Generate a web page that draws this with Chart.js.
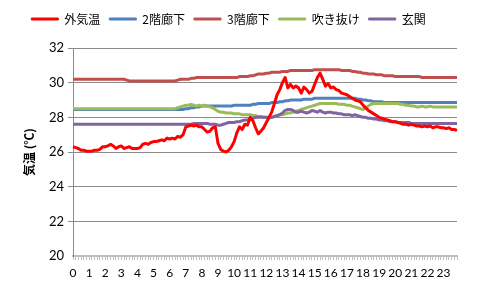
<!DOCTYPE html>
<html>
<head>
<meta charset="utf-8">
<script src="https://cdn.jsdelivr.net/npm/chart.js@4.4.0/dist/chart.umd.min.js"></script>
<style>
  html, body { margin: 0; padding: 0; background: #fff; }
  #wrap { width: 478px; height: 302px; }
</style>
</head>
<body>
<div id="wrap"><canvas id="chart" width="478" height="302"></canvas></div>
<script>
// hour tick labels (each hour has 6 ten-minute readings)
const hours = [0, 1, 2, 3, 4, 5, 6, 7, 8, 9, 10, 11, 12, 13, 14, 15, 16, 17, 18, 19, 20, 21, 22, 23];
const seriesNames = ["外気温", "2階廊下", "3階廊下", "吹き抜け", "玄関"];

const outside = [
  26.3, 26.25, 26.2, 26.1, 26.1, 26.05,
  26.05, 26.05, 26.1, 26.1, 26.15, 26.3,
  26.3, 26.35, 26.45, 26.35, 26.2, 26.3,
  26.35, 26.2, 26.25, 26.3, 26.2, 26.2,
  26.2, 26.25, 26.45, 26.5, 26.45, 26.55,
  26.6, 26.6, 26.65, 26.7, 26.65, 26.8,
  26.75, 26.8, 26.75, 26.9, 26.85, 27.0,
  27.45, 27.5, 27.55, 27.5, 27.55, 27.45,
  27.45, 27.3, 27.15, 27.2, 27.4, 27.45,
  26.5, 26.15, 26.05, 26.0, 26.1, 26.3,
  26.6, 27.1, 27.45, 27.3, 27.6, 27.55,
  28.0, 27.8, 27.4, 27.05, 27.2, 27.4,
  27.7, 28.0, 28.3, 28.8, 29.3, 29.6,
  30.0, 30.3, 29.7, 29.9, 29.7, 29.8,
  29.7, 29.4, 29.75, 29.6, 29.4, 29.5,
  29.9, 30.3, 30.55, 30.2, 29.8, 29.95,
  29.7, 29.75, 29.6, 29.55, 29.4, 29.35,
  29.3, 29.2, 29.1, 29.0, 28.95, 28.9,
  28.7, 28.55, 28.4, 28.3, 28.2, 28.1,
  28.0, 27.95, 27.9, 27.85, 27.8, 27.75,
  27.75, 27.7, 27.65, 27.6, 27.6, 27.55,
  27.6, 27.55, 27.5, 27.5, 27.45, 27.5,
  27.45, 27.5, 27.4, 27.45, 27.45, 27.4,
  27.4, 27.35, 27.4, 27.3, 27.3, 27.25
];

const hall2F = [
  28.45, 28.45, 28.45, 28.45, 28.45, 28.45,
  28.45, 28.45, 28.45, 28.45, 28.45, 28.45,
  28.45, 28.45, 28.45, 28.45, 28.45, 28.45,
  28.45, 28.45, 28.45, 28.45, 28.45, 28.45,
  28.45, 28.45, 28.45, 28.45, 28.45, 28.45,
  28.45, 28.45, 28.45, 28.45, 28.45, 28.45,
  28.45, 28.45, 28.45, 28.45, 28.45, 28.45,
  28.5, 28.5, 28.55, 28.55, 28.6, 28.6,
  28.65, 28.65, 28.65, 28.65, 28.65, 28.65,
  28.65, 28.65, 28.65, 28.65, 28.65, 28.65,
  28.7, 28.7, 28.7, 28.7, 28.7, 28.7,
  28.7, 28.75, 28.75, 28.8, 28.8, 28.8,
  28.8, 28.8, 28.85, 28.85, 28.85, 28.9,
  28.9, 28.95, 28.95, 29.0, 29.0, 29.0,
  29.0, 29.0, 29.05, 29.05, 29.05, 29.05,
  29.1, 29.1, 29.1, 29.1, 29.1, 29.1,
  29.1, 29.1, 29.1, 29.1, 29.1, 29.1,
  29.1, 29.1, 29.1, 29.1, 29.05, 29.05,
  29.0, 29.0, 28.95, 28.95, 28.9, 28.9,
  28.9, 28.9, 28.85, 28.85, 28.85, 28.85,
  28.85, 28.85, 28.85, 28.85, 28.85, 28.85,
  28.85, 28.85, 28.85, 28.85, 28.85, 28.85,
  28.85, 28.85, 28.85, 28.85, 28.85, 28.85,
  28.85, 28.85, 28.85, 28.85, 28.85, 28.85
];

const hall3F = [
  30.2, 30.2, 30.2, 30.2, 30.2, 30.2,
  30.2, 30.2, 30.2, 30.2, 30.2, 30.2,
  30.2, 30.2, 30.2, 30.2, 30.2, 30.2,
  30.2, 30.2, 30.15, 30.1, 30.1, 30.1,
  30.1, 30.1, 30.1, 30.1, 30.1, 30.1,
  30.1, 30.1, 30.1, 30.1, 30.1, 30.1,
  30.1, 30.1, 30.1, 30.15, 30.2, 30.2,
  30.2, 30.2, 30.25, 30.25, 30.3, 30.3,
  30.3, 30.3, 30.3, 30.3, 30.3, 30.3,
  30.3, 30.3, 30.3, 30.3, 30.3, 30.3,
  30.3, 30.3, 30.35, 30.35, 30.35, 30.35,
  30.4, 30.4, 30.45, 30.5, 30.5, 30.5,
  30.55, 30.55, 30.6, 30.6, 30.6, 30.6,
  30.65, 30.65, 30.65, 30.7, 30.7, 30.7,
  30.7, 30.7, 30.7, 30.7, 30.7, 30.7,
  30.75, 30.75, 30.75, 30.75, 30.75, 30.75,
  30.75, 30.75, 30.75, 30.75, 30.7, 30.7,
  30.7, 30.7, 30.65, 30.65, 30.6, 30.6,
  30.55, 30.55, 30.5, 30.5, 30.5, 30.45,
  30.45, 30.45, 30.4, 30.4, 30.4, 30.4,
  30.35, 30.35, 30.35, 30.35, 30.35, 30.35,
  30.35, 30.35, 30.35, 30.35, 30.3, 30.3,
  30.3, 30.3, 30.3, 30.3, 30.3, 30.3,
  30.3, 30.3, 30.3, 30.3, 30.3, 30.3
];

const atrium = [
  28.5, 28.5, 28.5, 28.5, 28.5, 28.5,
  28.5, 28.5, 28.5, 28.5, 28.5, 28.5,
  28.5, 28.5, 28.5, 28.5, 28.5, 28.5,
  28.5, 28.5, 28.5, 28.5, 28.5, 28.5,
  28.5, 28.5, 28.5, 28.5, 28.5, 28.5,
  28.5, 28.5, 28.5, 28.5, 28.5, 28.5,
  28.5, 28.5, 28.5, 28.55, 28.6, 28.65,
  28.7, 28.7, 28.75, 28.7, 28.65, 28.7,
  28.65, 28.7, 28.65, 28.6, 28.55, 28.45,
  28.35, 28.3, 28.3, 28.25, 28.25, 28.25,
  28.2, 28.2, 28.2, 28.15, 28.15, 28.15,
  28.15, 28.1, 28.1, 28.05, 28.05, 28.0,
  28.0, 27.95, 28.0, 28.05, 28.1, 28.15,
  28.15, 28.2, 28.25, 28.25, 28.3, 28.35,
  28.4, 28.45, 28.5, 28.55, 28.6, 28.65,
  28.7, 28.75, 28.8, 28.8, 28.8, 28.8,
  28.8, 28.8, 28.8, 28.75, 28.75, 28.75,
  28.7, 28.7, 28.65, 28.6, 28.55, 28.5,
  28.45, 28.55, 28.65, 28.75, 28.8, 28.8,
  28.8, 28.8, 28.8, 28.8, 28.8, 28.8,
  28.8, 28.8, 28.75, 28.75, 28.7, 28.7,
  28.65, 28.65, 28.6, 28.6, 28.65, 28.6,
  28.6, 28.65, 28.6, 28.6, 28.6, 28.6,
  28.6, 28.6, 28.6, 28.6, 28.6, 28.6
];

const entrance = [
  27.6, 27.6, 27.6, 27.6, 27.6, 27.6,
  27.6, 27.6, 27.6, 27.6, 27.6, 27.6,
  27.6, 27.6, 27.6, 27.6, 27.6, 27.6,
  27.6, 27.6, 27.6, 27.6, 27.6, 27.6,
  27.6, 27.6, 27.6, 27.6, 27.6, 27.6,
  27.6, 27.6, 27.6, 27.6, 27.6, 27.6,
  27.6, 27.6, 27.6, 27.6, 27.6, 27.6,
  27.6, 27.6, 27.6, 27.65, 27.65, 27.65,
  27.65, 27.65, 27.65, 27.6, 27.6, 27.6,
  27.55, 27.55, 27.6, 27.65, 27.7, 27.7,
  27.7, 27.75, 27.75, 27.8, 27.85, 27.85,
  27.9, 27.95, 28.0, 28.0, 28.0, 28.0,
  28.0, 28.0, 28.0, 28.05, 28.1, 28.15,
  28.25, 28.4, 28.45, 28.45, 28.4, 28.3,
  28.3, 28.35, 28.3, 28.25, 28.3, 28.4,
  28.35, 28.3, 28.4, 28.3, 28.25, 28.3,
  28.3, 28.25, 28.25, 28.2, 28.2, 28.15,
  28.15, 28.15, 28.1, 28.15, 28.1, 28.05,
  28.0, 28.0, 27.95, 27.95, 27.9, 27.9,
  27.85, 27.85, 27.8, 27.8, 27.75, 27.75,
  27.75, 27.7, 27.7, 27.7, 27.7, 27.7,
  27.65, 27.65, 27.65, 27.65, 27.65, 27.65,
  27.65, 27.65, 27.65, 27.65, 27.65, 27.65,
  27.65, 27.65, 27.65, 27.65, 27.65, 27.65
];

const colors = ["#FF0000", "#4F81BD", "#C0504D", "#9BBB59", "#8064A2"];

// one label per reading, hour shown on the first reading of each hour
const labels = [];
hours.forEach(h => {
  labels.push(String(h));
  for (let k = 1; k < 6; k++) labels.push("");
});

const allSeries = [outside, hall2F, hall3F, atrium, entrance];
// lower order is drawn on top
const drawOrder = [0, 3, 4, 2, 1];

const datasets = allSeries.map((values, i) => ({
  label: seriesNames[i],
  data: values,
  borderColor: colors[i],
  backgroundColor: colors[i],
  borderWidth: 3,
  pointRadius: 0,
  tension: 0,
  borderJoinStyle: "round",
  order: drawOrder[i]
}));

// extra room between legend and plot
const legendGap = {
  id: "legendGap",
  beforeInit(chart) {
    const fit = chart.legend.fit;
    chart.legend.fit = function () {
      fit.bind(chart.legend)();
      this.height += 13;
    };
  }
};

const tickFont = { family: "Lato, 'Open Sans', sans-serif", size: 12 };

new Chart(document.getElementById("chart"), {
  type: "line",
  data: { labels, datasets },
  plugins: [legendGap],
  options: {
    responsive: false,
    animation: false,
    layout: { padding: { top: 4, right: 21, bottom: 16, left: 0 } },
    plugins: {
      legend: {
        position: "top",
        labels: {
          boxWidth: 27,
          boxHeight: 2,
          padding: 9,
          color: "#000",
          font: { family: "'Noto Sans CJK JP', sans-serif", size: 12 },
          sort: (a, b) => a.datasetIndex - b.datasetIndex,
          generateLabels: chart =>
            Chart.defaults.plugins.legend.labels.generateLabels(chart).map(l => ({ ...l, lineWidth: 1 }))
        }
      },
      tooltip: { enabled: false }
    },
    scales: {
      x: {
        offset: false,
        grid: {
          display: true,
          drawOnChartArea: false,
          drawTicks: true,
          tickLength: 4,
          color: "#BFBFBF"
        },
        border: { color: "#BFBFBF", width: 2 },
        ticks: {
          autoSkip: false,
          maxRotation: 0,
          minRotation: 0,
          padding: 6,
          color: "#000",
          font: tickFont
        },
        afterFit: s => { s.height = 30; }
      },
      y: {
        min: 20,
        max: 32,
        ticks: { stepSize: 2, color: "#000", padding: 4, font: { family: tickFont.family, size: 13 } },
        grid: {
          color: ctx => (ctx.tick && ctx.tick.value === 20 ? "rgba(0,0,0,0)" : "#8C8C8C"),
          tickLength: 5
        },
        border: { color: "#8C8C8C" },
        title: {
          display: true,
          text: "気温 (℃)",
          color: "#000",
          font: { family: "'Noto Sans CJK JP', sans-serif", size: 12, weight: "bold" },
          padding: { top: 22, bottom: 0 }
        },
        afterFit: s => { s.width = 73; }
      }
    }
  }
});
</script>
</body>
</html>
